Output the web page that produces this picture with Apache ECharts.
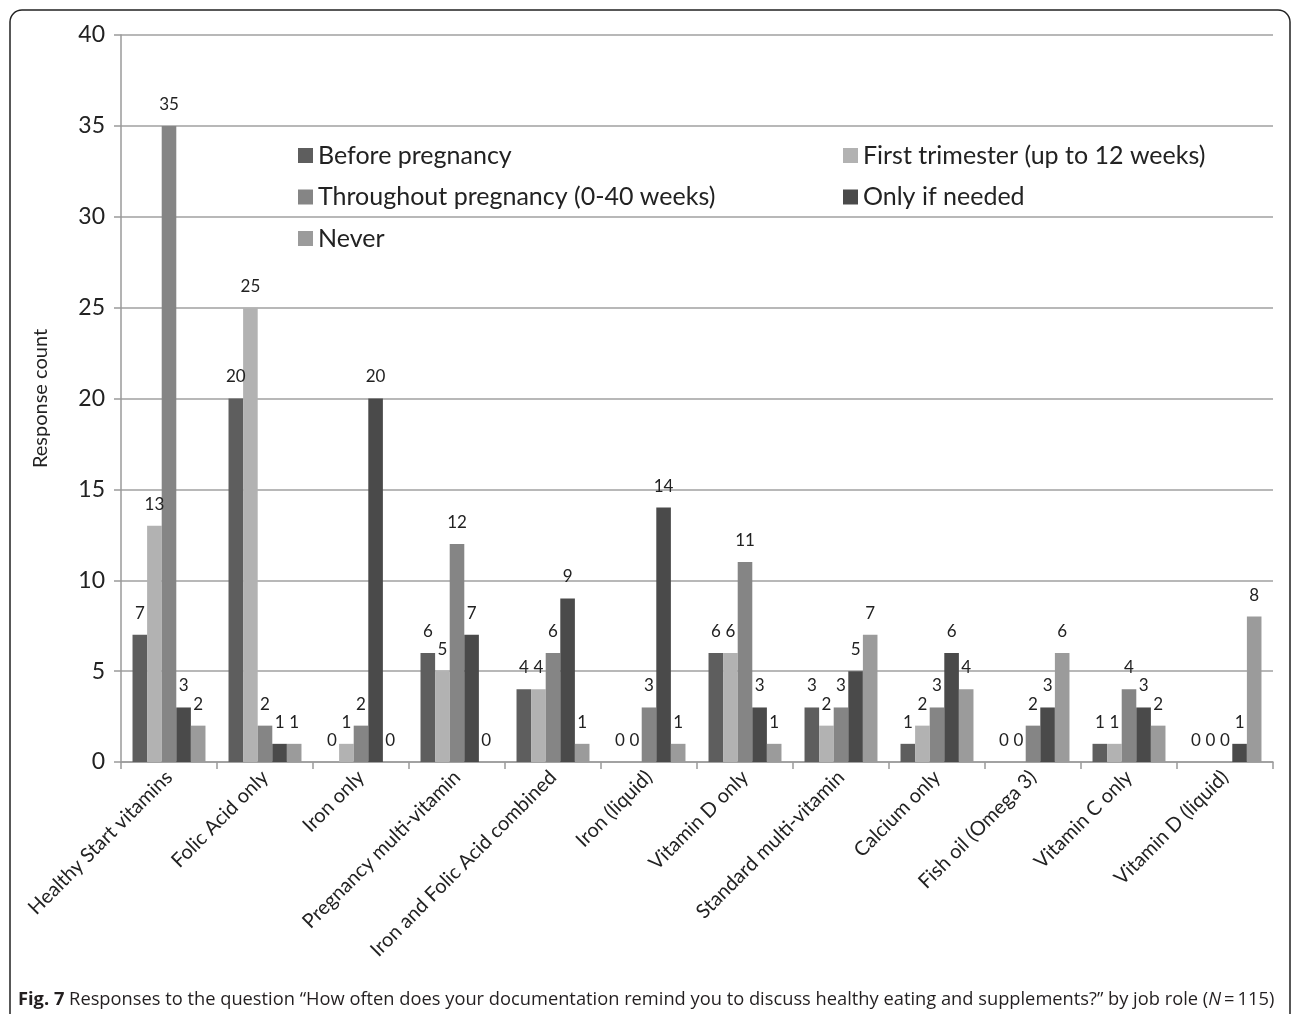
<!DOCTYPE html>
<html>
<head>
<meta charset="utf-8">
<script src="https://cdn.jsdelivr.net/npm/echarts@6/dist/echarts.min.js"></script>
<style>
  html, body { margin: 0; padding: 0; background: #fff; }
  #chart { width: 1292px; height: 1014px; }
</style>
</head>
<body>
<div id="chart"></div>
<script>
// Supplement categories along the x axis
const categories = [
  'Healthy Start vitamins', 'Folic Acid only', 'Iron only', 'Pregnancy multi-vitamin',
  'Iron and Folic Acid combined', 'Iron (liquid)', 'Vitamin D only', 'Standard multi-vitamin',
  'Calcium only', 'Fish oil (Omega 3)', 'Vitamin C only', 'Vitamin D (liquid)'
];

// Response counts per timing option
const beforePregnancy = [7, 20, 0, 6, 4, 0, 6, 3, 1, 0, 1, 0];
const firstTrimester  = [13, 25, 1, 5, 4, 0, 6, 2, 2, 0, 1, 0];
const throughout      = [35, 2, 2, 12, 6, 3, 11, 3, 3, 2, 4, 0];
const onlyIfNeeded    = [3, 1, 20, 7, 9, 14, 3, 5, 6, 3, 3, 1];
const never           = [2, 1, 0, 0, 1, 1, 1, 7, 4, 6, 2, 8];

const seriesNames = [
  'Before pregnancy', 'First trimester (up to 12 weeks)',
  'Throughout pregnancy (0-40 weeks)', 'Only if needed', 'Never'
];
const seriesData = [beforePregnancy, firstTrimester, throughout, onlyIfNeeded, never];
const seriesColors = ['#5e5e5e', '#b2b2b2', '#858585', '#4a4a4a', '#9b9b9b'];

const FONT = 'Lato, "Open Sans", sans-serif';
const TEXT = '#222222';

const chart = echarts.init(document.getElementById('chart'), null, { renderer: 'canvas' });

const series = seriesNames.map((name, i) => ({
  name: name,
  type: 'bar',
  data: seriesData[i],
  barGap: '0%',
  barCategoryGap: '24%',
  itemStyle: { color: seriesColors[i] },
  label: {
    show: true,
    position: 'top',
    distance: 13,
    fontFamily: FONT,
    fontSize: 17,
    color: TEXT
  }
}));

const legendText = { fontFamily: FONT, fontSize: 25, color: TEXT, lineHeight: 25 };

chart.setOption({
  animation: false,
  backgroundColor: '#ffffff',
  grid: { left: 121, right: 19, top: 35, bottom: 252, containLabel: false },
  legend: [
    {
      orient: 'vertical',
      left: 293, top: 138,
      itemWidth: 15, itemHeight: 15, itemGap: 16.5,
      icon: 'rect',
      textStyle: legendText,
      data: [seriesNames[0], seriesNames[2], seriesNames[4]]
    },
    {
      orient: 'vertical',
      left: 838, top: 138,
      itemWidth: 15, itemHeight: 15, itemGap: 16.5,
      icon: 'rect',
      textStyle: legendText,
      data: [seriesNames[1], seriesNames[3]]
    }
  ],
  xAxis: {
    type: 'category',
    data: categories,
    axisLine: { lineStyle: { color: '#9a9a9a', width: 1.5 } },
    axisTick: { show: true, length: 7, lineStyle: { color: '#9a9a9a', width: 1.5 } },
    axisLabel: {
      interval: 0, rotate: 45, margin: 12,
      fontFamily: FONT, fontSize: 20, color: TEXT
    }
  },
  yAxis: {
    type: 'value',
    min: 0, max: 40, interval: 5,
    name: 'Response count',
    nameLocation: 'middle',
    nameGap: 70,
    nameTextStyle: { fontFamily: FONT, fontSize: 20, color: TEXT },
    axisLine: { show: true, lineStyle: { color: '#9a9a9a', width: 1.5 } },
    axisTick: { show: true, length: 7, lineStyle: { color: '#9a9a9a', width: 1.5 } },
    axisLabel: { fontFamily: FONT, fontSize: 23, color: TEXT, margin: 16 },
    splitLine: { lineStyle: { color: '#a0a0a0', width: 1.5 } }
  },
  series: series,
  graphic: [
    {
      type: 'rect',
      shape: { x: 10, y: 10, width: 1280, height: 1030, r: 12 },
      style: { fill: null, stroke: '#222', lineWidth: 1.5 },
      silent: true
    },
    {
      type: 'text',
      left: 18, top: 991,
      style: {
        text: '{b|Fig. 7} Responses to the question \u201cHow often does your documentation remind you to discuss healthy eating and supplements?\u201d by job role ({i|N}\u2009=\u2009115)',
        fontFamily: '"Open Sans", sans-serif',
        fontSize: 18.3,
        fill: '#231f20',
        rich: {
          b: { fontFamily: '"Open Sans", sans-serif', fontSize: 18.3, fontWeight: 'bold', fill: '#231f20' },
          i: { fontFamily: '"Open Sans", sans-serif', fontSize: 18.3, fontStyle: 'italic', fill: '#231f20' }
        }
      }
    }
  ]
});
</script>
</body>
</html>
